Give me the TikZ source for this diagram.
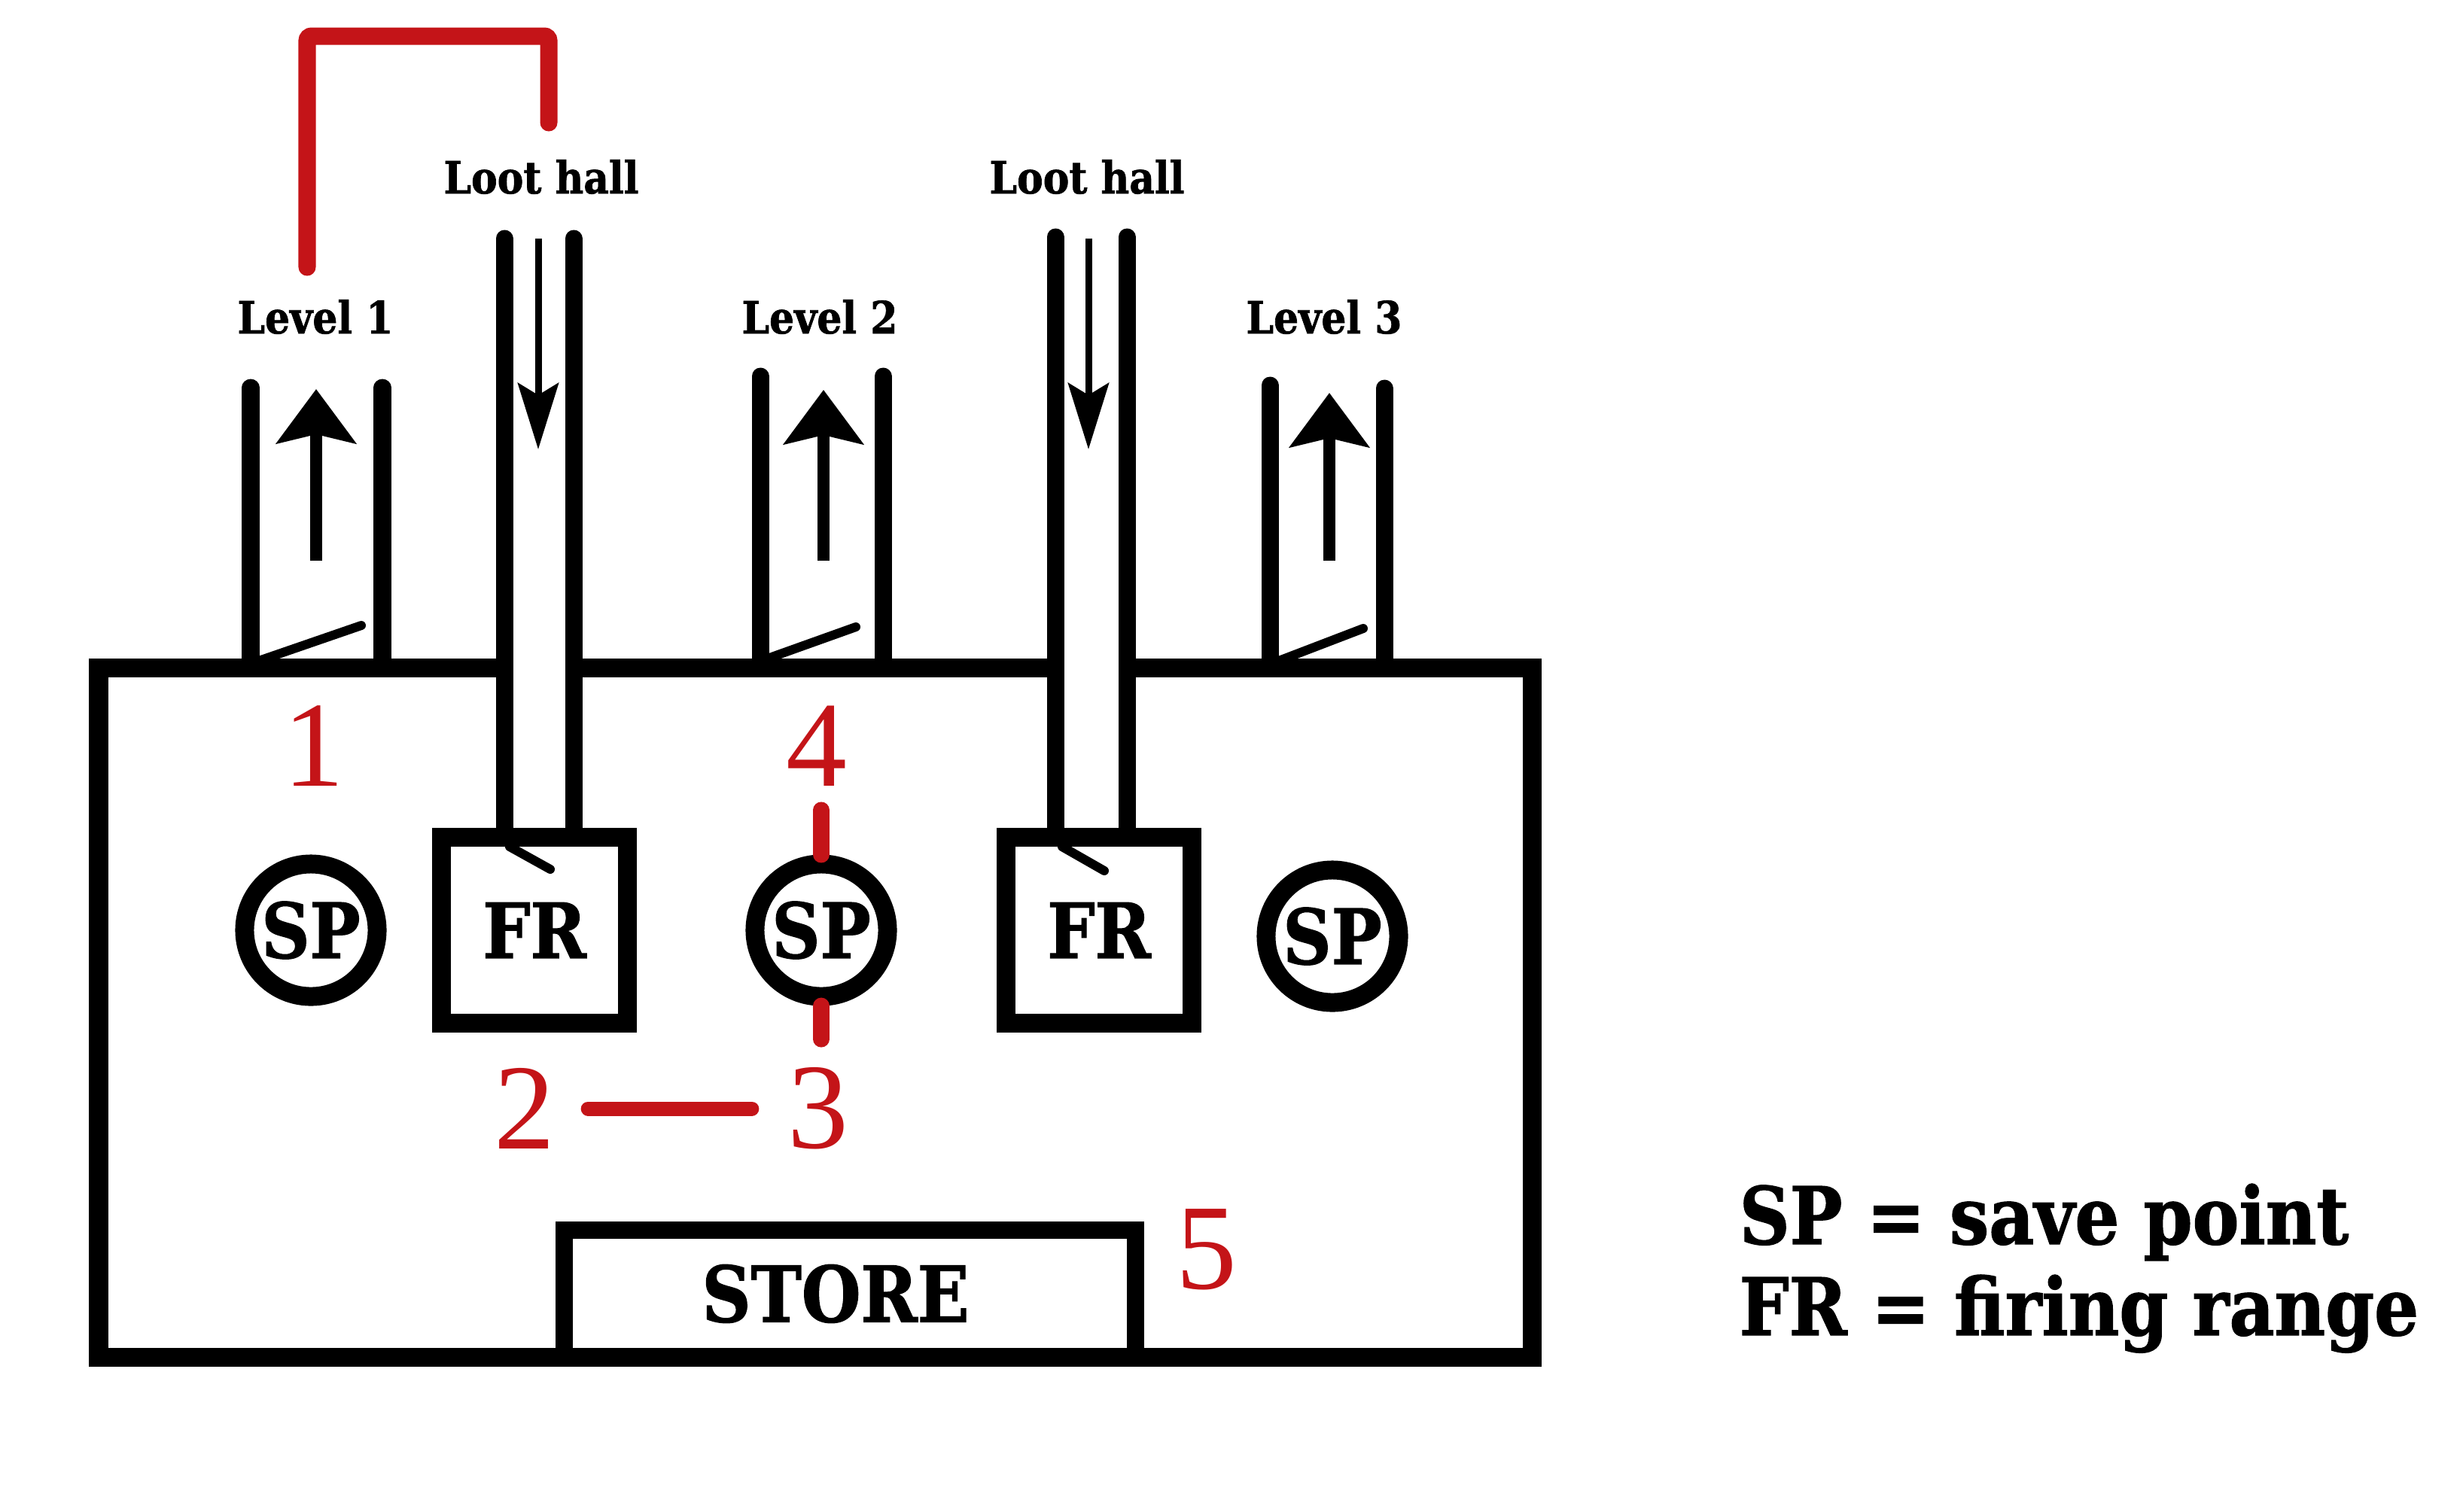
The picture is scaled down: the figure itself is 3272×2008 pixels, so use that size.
\documentclass[tikz,border=0pt]{standalone}
\usepackage{fontspec}
\newfontfamily\slab[FakeStretch=0.88, BoldFeatures={FakeBold=1.2}]{DejaVu Serif}
\newfontfamily\numfont{Liberation Serif}
\usetikzlibrary{arrows.meta, positioning}
\definecolor{mred}{HTML}{C41418}
\tikzset{
  wall/.style={line width=0.25cm, line cap=butt},
  shaft/.style={line width=0.23cm, line cap=round},
  door/.style={line width=0.12cm, line cap=round},
  upflow/.style={line width=0.16cm, -{Stealth[length=0.72cm, width=1.05cm, inset=0.12cm]}},
  downflow/.style={line width=0.09cm, -{Stealth[length=0.88cm, width=0.54cm, inset=0.16cm]}},
  route/.style={draw=mred, line width=0.23cm, line cap=round, rounded corners=0.06cm},
  tick/.style={draw=mred, line width=0.22cm, line cap=round},
  tag/.style={text=mred, font=\fontsize{46}{50}\selectfont\numfont, inner sep=0pt},
  lab/.style={font=\fontsize{16.8}{20}\selectfont\slab\bfseries, inner sep=0pt},
  savept/.style={circle, draw, line width=0.25cm, minimum size=1.76cm, inner sep=0pt,
    font=\fontsize{28.8}{32}\selectfont\slab\bfseries},
  firing/.style={rectangle, draw, line width=0.25cm, minimum width=2.46cm,
    minimum height=2.47cm, inner sep=0pt, font=\fontsize{28.8}{32}\selectfont\slab\bfseries},
  store/.style={rectangle, draw, line width=0.23cm, minimum width=7.58cm,
    minimum height=1.68cm, inner sep=0pt, font=\fontsize{29.2}{32}\selectfont\slab\bfseries},
  legend/.style={font=\fontsize{30}{34}\selectfont\slab\bfseries, inner sep=0pt, anchor=base west}
}
\begin{document}
\begin{tikzpicture}[x=0.01cm, y=-0.01cm]
  \useasboundingbox (0,0) rectangle (3272,2008);
  % outer walls
  \draw[wall] (670,887) -- (131,887) -- (131,1803) -- (2035,1803) -- (2035,887) -- (1497,887);
  \draw[wall] (762,887) -- (1402,887);

  % rooms
  \node[firing] (fr1) at (710,1236) {FR};
  \node[firing] (fr2) at (1460,1236) {FR};
  \node[savept] (sp1) at (413,1236) {SP};
  \node[savept] (sp2) at (1091,1236) {SP};
  \node[savept] (sp3) at (1770,1244) {SP};
  \node[store] (store) at (1129,1719) {STORE\hspace*{0.38cm}};

  % level shafts
  \draw[shaft] (333,515) -- (333,887);
  \draw[shaft] (508,515) -- (508,887);
  \draw[shaft] (1010,500) -- (1010,887);
  \draw[shaft] (1173,500) -- (1173,887);
  \draw[shaft] (1687,512) -- (1687,887);
  \draw[shaft] (1839,516) -- (1839,887);
  % loot hall shafts
  \draw[shaft] (670,317) -- (670,1112);
  \draw[shaft] (762,317) -- (762,1112);
  \draw[shaft] (1402,315) -- (1402,1112);
  \draw[shaft] (1497,315) -- (1497,1112);

  % doors
  \draw[door] (338,880) -- (480,831);
  \draw[door] (1014,877) -- (1137,833);
  \draw[door] (1691,881) -- (1811,835);
  \draw[door] (677,1125) -- (731,1155);
  \draw[door] (1411,1125) -- (1467,1157);

  % flow
  \coordinate (up1a) at (420,745);
  \coordinate (up1b) at (420,517);
  \coordinate (up2a) at (1094,745);
  \coordinate (up2b) at (1094,518);
  \coordinate (up3a) at (1766,745);
  \coordinate (up3b) at (1766,522);
  \coordinate (dn1a) at (715,317);
  \coordinate (dn1b) at (715,597);
  \coordinate (dn2a) at (1446,317);
  \coordinate (dn2b) at (1446,597);
  \draw[upflow] (up1a) -- (up1b);
  \draw[upflow] (up2a) -- (up2b);
  \draw[upflow] (up3a) -- (up3b);
  \draw[downflow] (dn1a) -- (dn1b);
  \draw[downflow] (dn2a) -- (dn2b);

  % labels
  \node[lab, anchor=base] (lvl1) at (419,443) {Level 1};
  \node[lab, anchor=base] (loot1) at (719,257) {Loot hall};
  \node[lab, anchor=base] (lvl2) at (1089,443) {Level 2};
  \node[lab, anchor=base] (loot2) at (1444,257) {Loot hall};
  \node[lab, anchor=base] (lvl3) at (1759,443) {Level 3};

  % route
  \coordinate (r1) at (408,355);
  \coordinate (r2) at (729,163);
  \draw[route] (r1) -- (408,48) -- (729,48) -- (r2);
  \node[tag] (n1) at (417,991) {1};
  \node[tag] (n4) at (1085,991) {4};
  \node[tag] (n2) at (697,1473) {2};
  \node[tag] (n3) at (1087,1473) {3};
  \node[tag] (n5) at (1603,1660) {5};
  \draw[tick] (sp2.north) -- ++(0,-59);
  \draw[tick] (sp2.south) -- ++(0,44);
  \draw[tick, line width=0.19cm, shorten <=0.43cm, shorten >=0.47cm] (n2.east) -- (n3.west);

  % key
  \node[legend] (key1) at (2310,1653) {SP = save point};
  \node[legend] (key2) at (2310,1774) {FR = firing range};
\end{tikzpicture}
\end{document}
